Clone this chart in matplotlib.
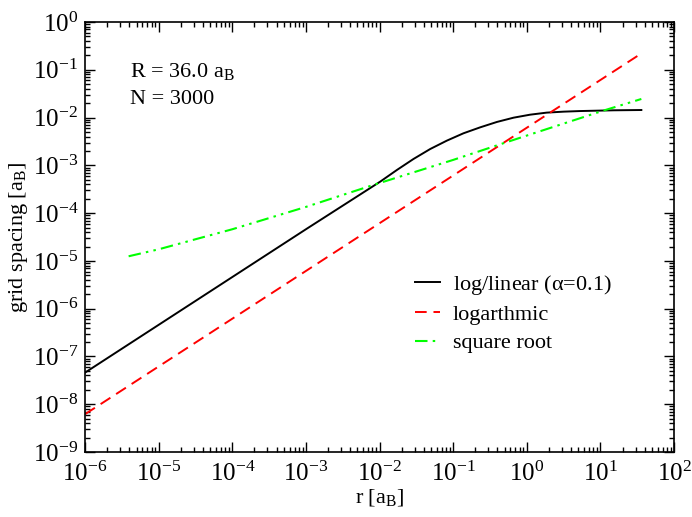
import math

import matplotlib
matplotlib.use("Agg")
import matplotlib.pyplot as plt
from matplotlib.ticker import LogLocator, NullFormatter, FuncFormatter

plt.rcParams["font.family"] = ["Liberation Serif", "DejaVu Serif"]
plt.rcParams["mathtext.fontset"] = "custom"
plt.rcParams["mathtext.rm"] = "Liberation Serif"
plt.rcParams["mathtext.it"] = "Liberation Serif"
plt.rcParams["axes.unicode_minus"] = False

# values
r_loglin = [1e-6, 1e-4, 1e-3, 1.02e-2, 1.72e-2, 2.89e-2, 4.88e-2, 8.2e-2, 0.138, 0.233, 0.393,
            0.661, 1.11, 1.87, 3.16, 5.32, 15.1, 36.0]
h_loglin = [4.6e-8, 4.6e-6, 4.6e-5, 4.56e-4, 8.0e-4, 1.36e-3, 2.2e-3, 3.29e-3, 4.69e-3, 6.25e-3,
            8.1e-3, 9.95e-3, 1.15e-2, 1.27e-2, 1.33e-2, 1.37e-2, 1.42e-2, 1.44e-2]

r_log = [1e-6, 36.0]
h_log = [6.2e-9, 0.22]

r_sqrt = [3.9e-6, 1e-5, 3.6e-5, 1e-4, 1e-3, 8.3e-3, 1e-1, 0.48, 1.0, 11.0, 36.0]
h_sqrt = [1.25e-5, 1.75e-5, 3.0e-5, 4.6e-5, 1.35e-4, 3.9e-4, 1.3e-3, 2.9e-3, 4.2e-3, 1.4e-2, 2.45e-2]

R_VALUE = 36.0
N_POINTS = 3000


def pow10(v, pos):
    exp = int(round(math.log10(v)))
    return r"$\mathregular{10^{%d}}$" % exp


fig = plt.figure(figsize=(6.92, 5.17), dpi=100)
ax = fig.add_axes([0.123, 0.1257, 0.851, 0.8317])

ax.plot(r_loglin, h_loglin, color="black", lw=1.4, label=r"log/linear ($\alpha$=0.1)")
ax.plot(r_log, h_log, color="#ff0000", lw=1.4, dashes=(6, 3.5), label="logarthmic")
ax.plot(r_sqrt, h_sqrt, color="#00ff00", lw=1.5, dashes=(6, 2.5, 1.2, 2.5, 1.2, 2.5),
        label="square root")

ax.set_xscale("log")
ax.set_yscale("log")
ax.set_xlim(1e-6, 1e2)
ax.set_ylim(1e-9, 1e0)

for axis in (ax.xaxis, ax.yaxis):
    axis.set_major_locator(LogLocator(base=10, numticks=20))
    axis.set_minor_locator(LogLocator(base=10, subs=range(2, 10), numticks=20))
    axis.set_major_formatter(FuncFormatter(pow10))
    axis.set_minor_formatter(NullFormatter())

ax.tick_params(which="both", direction="in", top=True, right=True, width=1.0)
ax.tick_params(which="major", length=7, labelsize=18, pad=5)
ax.tick_params(axis="x", which="major", pad=7)
ax.tick_params(which="minor", length=3.5)
for s in ax.spines.values():
    s.set_linewidth(1.2)

ax.set_xlabel(r"r [a$_\mathregular{B}$]", fontsize=16, labelpad=1)
ax.set_ylabel(r"grid spacing [a$_\mathregular{B}$]", fontsize=16, labelpad=2)

ax.text(0.076, 0.884, r"R = %.1f a$_\mathregular{B}$" % R_VALUE, transform=ax.transAxes,
        fontsize=16, va="center")
ax.text(0.076, 0.819, "N = %d" % N_POINTS, transform=ax.transAxes, fontsize=16, va="center")

ax.legend(loc="center left", bbox_to_anchor=(0.56, 0.323), frameon=False, fontsize=16,
          handlelength=1.15, handletextpad=0.55, labelspacing=0.35, borderaxespad=0,
          borderpad=0)

fig.savefig("out.png", dpi=100)
